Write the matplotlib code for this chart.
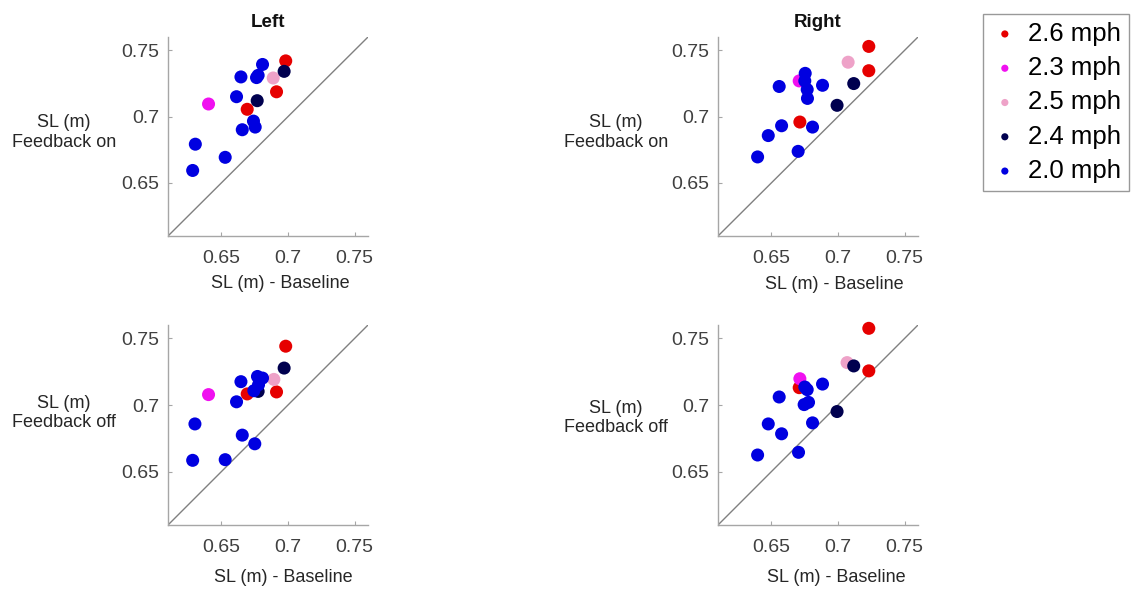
import numpy as np
import matplotlib
matplotlib.use('Agg')
import matplotlib.pyplot as plt

plt.rcParams['font.family'] = ['Liberation Sans', 'DejaVu Sans']

# speed groups (legend order = drawing order)
speeds = ['2.6 mph', '2.3 mph', '2.5 mph', '2.4 mph', '2.0 mph']
colors = ['#e60000', '#f010f0', '#eea2c8', '#00004f', '#0000e0']

# Left leg, baseline step length per group
left_base = {
    '2.6 mph': [0.6694, 0.6914, 0.6983],
    '2.3 mph': [0.6404],
    '2.5 mph': [0.6889],
    '2.4 mph': [0.6769, 0.6971],
    '2.0 mph': [0.6285, 0.6305, 0.6529, 0.6647, 0.6614, 0.6657, 0.6741, 0.6754, 0.6764, 0.6776, 0.6809],
}
left_on = {
    '2.6 mph': [0.7055, 0.7187, 0.7420],
    '2.3 mph': [0.7095],
    '2.5 mph': [0.7291],
    '2.4 mph': [0.7120, 0.7341],
    '2.0 mph': [0.6594, 0.6792, 0.6693, 0.7299, 0.7150, 0.6901, 0.6966, 0.6921, 0.7294, 0.7311, 0.7393],
}
left_off = {
    '2.6 mph': [0.7083, 0.7098, 0.7441],
    '2.3 mph': [0.7078],
    '2.5 mph': [0.7192],
    '2.4 mph': [0.7102, 0.7277],
    '2.0 mph': [0.6585, 0.6858, 0.6590, 0.7175, 0.7024, 0.6774, 0.6709, 0.7107, 0.7152, 0.7214, 0.7202],
}
left_base_off = {
    '2.6 mph': [0.6694, 0.6914, 0.6983],
    '2.3 mph': [0.6404],
    '2.5 mph': [0.6894],
    '2.4 mph': [0.6776, 0.6971],
    '2.0 mph': [0.6285, 0.6302, 0.6529, 0.6647, 0.6614, 0.6657, 0.6751, 0.6744, 0.6779, 0.6771, 0.6809],
}

# Right leg
right_base = {
    '2.6 mph': [0.6714, 0.7231, 0.7231],
    '2.3 mph': [0.6709],
    '2.5 mph': [0.7076],
    '2.4 mph': [0.6993, 0.7118],
    '2.0 mph': [0.6397, 0.6477, 0.6577, 0.6559, 0.6701, 0.6809, 0.6754, 0.6751, 0.6769, 0.6771, 0.6884],
}
right_on = {
    '2.6 mph': [0.6959, 0.7529, 0.7346],
    '2.3 mph': [0.7269],
    '2.5 mph': [0.7410],
    '2.4 mph': [0.7085, 0.7249],
    '2.0 mph': [0.6696, 0.6857, 0.6931, 0.7227, 0.6738, 0.6921, 0.7326, 0.7269, 0.7204, 0.7137, 0.7236],
}
right_base_off = {
    '2.6 mph': [0.6709, 0.7231, 0.7231],
    '2.3 mph': [0.6714],
    '2.5 mph': [0.7068],
    '2.4 mph': [0.6993, 0.7118],
    '2.0 mph': [0.6397, 0.6477, 0.6577, 0.6559, 0.6704, 0.6809, 0.6751, 0.6769, 0.6746, 0.6779, 0.6884],
}
right_off = {
    '2.6 mph': [0.7130, 0.7575, 0.7256],
    '2.3 mph': [0.7197],
    '2.5 mph': [0.7318],
    '2.4 mph': [0.6951, 0.7293],
    '2.0 mph': [0.6625, 0.6858, 0.6784, 0.7060, 0.6645, 0.6866, 0.7135, 0.7115, 0.7003, 0.7020, 0.7157],
}

lims = [0.61, 0.76]
ticks = [0.65, 0.7, 0.75]
tick_labels = ['0.65', '0.7', '0.75']

fig = plt.figure(figsize=(11.34, 5.92), dpi=100)
W, H = 1134, 592

# panel boxes in pixels: left, top, width, height
panels = [
    (168, 37, 200, 199, left_base, left_on, 'Left', 'SL (m)\nFeedback on', (-0.52, 0.52), (0.56, -0.24)),
    (718, 37, 200, 199, right_base, right_on, 'Right', 'SL (m)\nFeedback on', (-0.51, 0.52), (0.58, -0.245)),
    (168, 325, 200, 200, left_base_off, left_off, None, 'SL (m)\nFeedback off', (-0.52, 0.56), (0.575, -0.26)),
    (718, 325, 200, 200, right_base_off, right_off, None, 'SL (m)\nFeedback off', (-0.51, 0.535), (0.59, -0.26)),
]

handles = []
for (px, py, pw, ph, xd, yd, title, ylab, ylc, xlc) in panels:
    ax = fig.add_axes([px / W, 1 - (py + ph) / H, pw / W, ph / H])
    ax.plot(lims, lims, color='#808080', lw=1, zorder=1)
    hs = []
    for sp, c in zip(speeds, colors):
        h = ax.scatter(xd[sp], yd[sp], s=88, color=c, edgecolors='none', label=sp,
                       zorder=2, clip_on=False)
        hs.append(h)
    if not handles:
        handles = hs
    ax.set_xlim(lims)
    ax.set_ylim(lims)
    ax.set_xticks(ticks)
    ax.set_xticklabels(tick_labels)
    ax.set_yticks(ticks)
    ax.set_yticklabels(tick_labels)
    ax.spines['top'].set_visible(False)
    ax.spines['right'].set_visible(False)
    for s in ['left', 'bottom']:
        ax.spines[s].set_color('#a6a6a6')
        ax.spines[s].set_linewidth(1)
    ax.tick_params(direction='in', length=3, color='#a6a6a6', labelsize=14, labelcolor='#404040')
    ax.tick_params(axis='x', pad=10)
    ax.tick_params(axis='y', pad=6)
    if title:
        ax.set_title(title, fontsize=13.5, fontweight='bold', pad=7, color='#111111')
    ax.set_xlabel('SL (m) - Baseline', fontsize=13, color='#262626', va='center')
    ax.xaxis.set_label_coords(*xlc)
    ax.set_ylabel(ylab, fontsize=13, rotation=0, ha='center', va='center',
                  multialignment='center', color='#262626')
    ax.yaxis.set_label_coords(*ylc)

leg = fig.legend(handles=handles, labels=speeds, loc='upper left',
                 bbox_to_anchor=(983 / W, 1 - 14 / H), fontsize=18.5,
                 markerscale=0.55, frameon=True, fancybox=False,
                 handletextpad=0.35, handlelength=1.1, labelspacing=0.4,
                 borderpad=0.3, borderaxespad=0)
leg.get_frame().set_edgecolor('#808080')
leg.get_frame().set_linewidth(1)

fig.savefig('out.png', dpi=100)
